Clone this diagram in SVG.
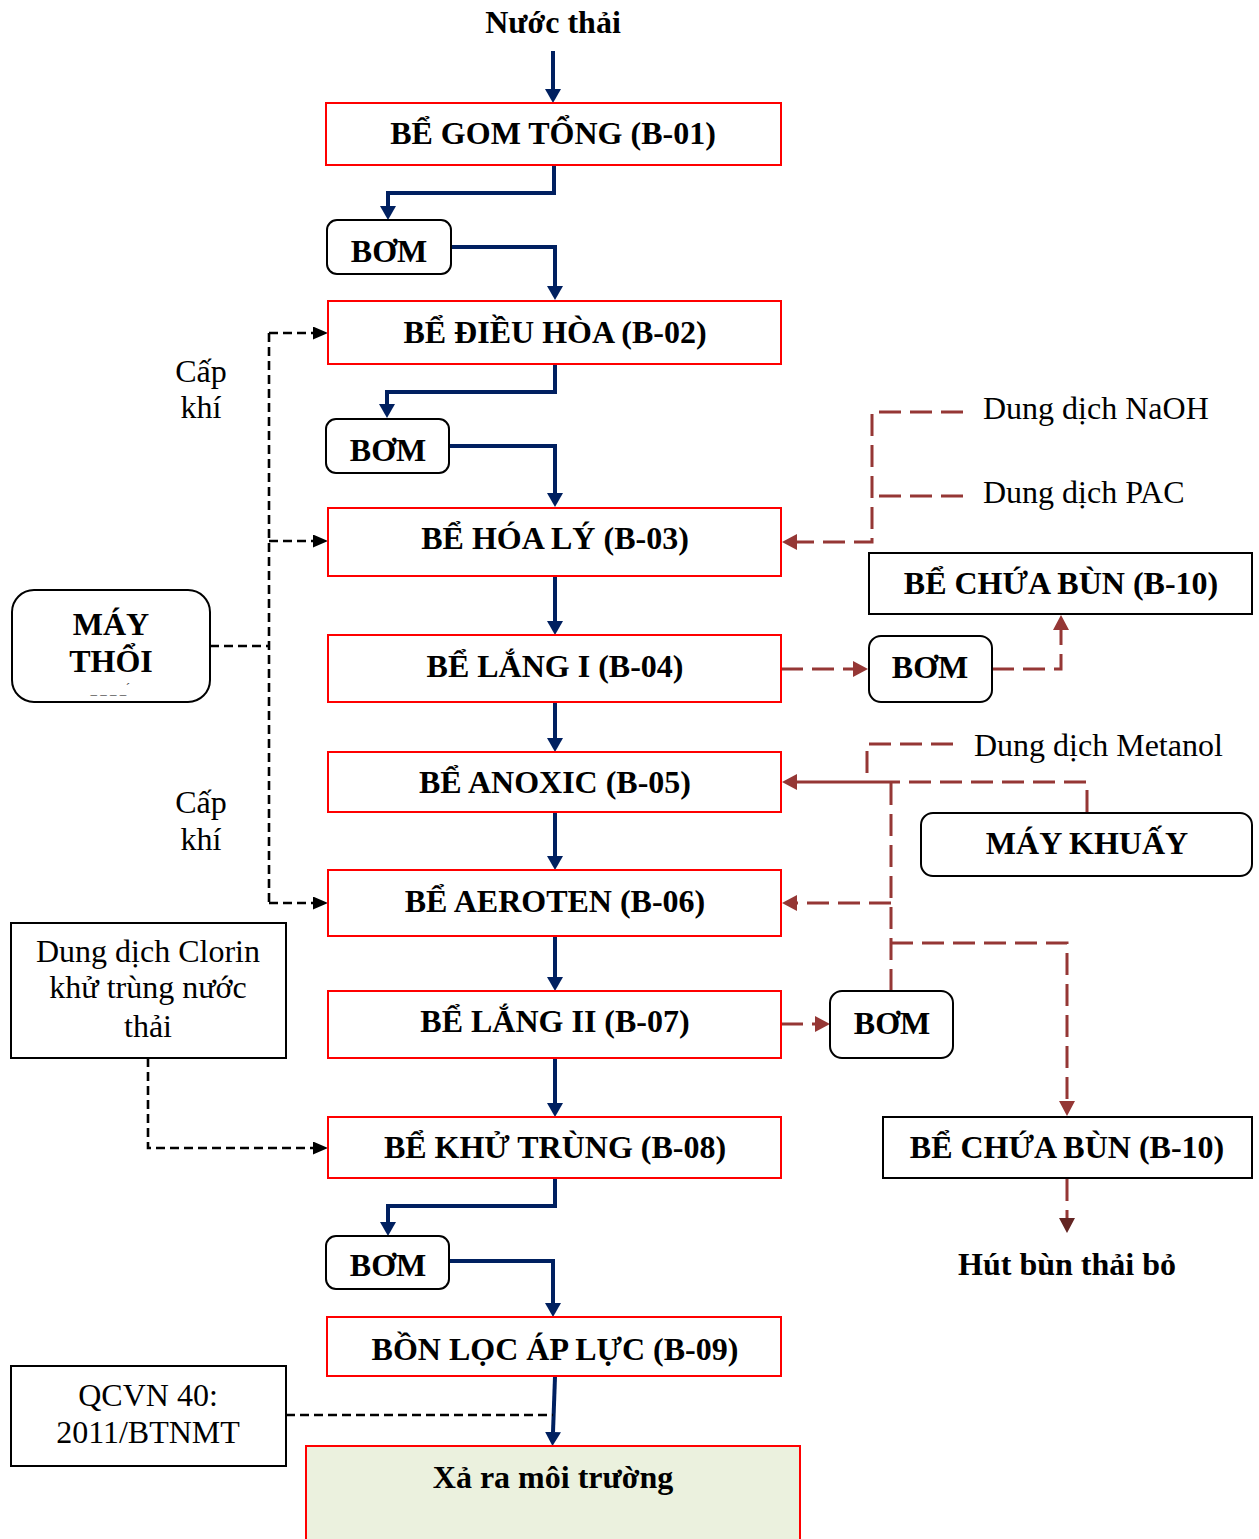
<svg xmlns="http://www.w3.org/2000/svg" width="1259" height="1539" viewBox="0 0 1259 1539">
<style>
.bx{fill:#fff;stroke:#ff0000;stroke-width:2}
.bk{fill:#fff;stroke:#000;stroke-width:2}
.t{font-family:"Liberation Serif","Times New Roman",serif;font-size:32px;fill:#000;text-anchor:middle}
.b{font-weight:bold}
.tl{text-anchor:start}
.blue{fill:none;stroke:#002060;stroke-width:4}
.blk{fill:none;stroke:#000;stroke-width:2.6;stroke-dasharray:9 5}
.brn{fill:none;stroke:#953735;stroke-width:3;stroke-dasharray:22 9}
.brs{fill:none;stroke:#953735;stroke-width:3}
</style>
<defs>
<marker id="ab" markerUnits="userSpaceOnUse" markerWidth="14" markerHeight="16" refX="0" refY="8" orient="auto"><path d="M0,0 L14,8 L0,16 z" fill="#002060"/></marker>
<marker id="ak" markerUnits="userSpaceOnUse" markerWidth="15" markerHeight="13" refX="0" refY="6.5" orient="auto"><path d="M0,0 L15,6.5 L0,13 z" fill="#000"/></marker>
<marker id="ar" markerUnits="userSpaceOnUse" markerWidth="15" markerHeight="16" refX="0" refY="8" orient="auto"><path d="M0,0 L15,8 L0,16 z" fill="#953735"/></marker>
<marker id="ad" markerUnits="userSpaceOnUse" markerWidth="15" markerHeight="16" refX="0" refY="8" orient="auto"><path d="M0,0 L15,8 L0,16 z" fill="#632523"/></marker>
</defs>

<g id="connectors">
<path class="blue" d="M553,51 V89" marker-end="url(#ab)"/>
<path class="blue" d="M554,166 V193 H388 V206" marker-end="url(#ab)"/>
<path class="blue" d="M451,247 H555 V286" marker-end="url(#ab)"/>
<path class="blue" d="M555,365 V392 H387 V404" marker-end="url(#ab)"/>
<path class="blue" d="M449,446 H555 V493" marker-end="url(#ab)"/>
<path class="blue" d="M555,577 V621" marker-end="url(#ab)"/>
<path class="blue" d="M555,703 V738" marker-end="url(#ab)"/>
<path class="blue" d="M555,813 V856" marker-end="url(#ab)"/>
<path class="blue" d="M555,937 V977" marker-end="url(#ab)"/>
<path class="blue" d="M555,1059 V1103" marker-end="url(#ab)"/>
<path class="blue" d="M555,1179 V1206 H388 V1222" marker-end="url(#ab)"/>
<path class="blue" d="M449,1261 H553 V1303" marker-end="url(#ab)"/>
<path class="blue" d="M555,1377 L553,1432" marker-end="url(#ab)"/>

<path class="blk" d="M269,333 V903"/>
<path class="blk" d="M269,333 H313" marker-end="url(#ak)"/>
<path class="blk" d="M269,541 H313" marker-end="url(#ak)"/>
<path class="blk" d="M269,903 H313" marker-end="url(#ak)"/>
<path class="blk" d="M210,646 H269"/>
<path class="blk" d="M148,1058 V1148 H313" marker-end="url(#ak)"/>
<path class="blk" d="M286,1415 H553"/>

<path class="brn" d="M963,412 H872 V542 H797" marker-end="url(#ar)"/>
<path class="brn" d="M963,496 H872"/>
<path class="brn" d="M781,669 H853" marker-end="url(#ar)"/>
<path class="brn" d="M992,669 H1061 V630" marker-end="url(#ar)"/>
<path class="brn" d="M953,744 H867 V782"/>
<path class="brn" d="M1087,812 V782 H891"/>
<path class="brs" d="M891,782 H797" marker-end="url(#ar)"/>
<path class="brn" d="M891,991 V782"/>
<path class="brn" d="M891,903 H797" marker-end="url(#ar)"/>
<path class="brn" d="M891,943 H1067 V1101" marker-end="url(#ar)"/>
<path class="brn" d="M781,1024 H815" marker-end="url(#ar)"/>
<path class="brn" d="M1067,1179 V1218" marker-end="url(#ad)"/>
</g>

<g id="nuoc-thai"><text class="t b" x="553" y="33">Nước thải</text></g>

<g id="b01"><rect class="bx" x="326" y="103" width="455" height="62"/><text class="t b" x="553" y="144">BỂ GOM TỔNG (B-01)</text></g>
<g id="bom1"><rect class="bk" x="327" y="220" width="124" height="54" rx="10"/><text class="t b" x="389" y="262">BƠM</text></g>
<g id="b02"><rect class="bx" x="328" y="301" width="453" height="63"/><text class="t b" x="555" y="343">BỂ ĐIỀU HÒA (B-02)</text></g>
<g id="bom2"><rect class="bk" x="326" y="419" width="123" height="54" rx="10"/><text class="t b" x="388" y="461">BƠM</text></g>
<g id="b03"><rect class="bx" x="328" y="508" width="453" height="68"/><text class="t b" x="555" y="549">BỂ HÓA LÝ (B-03)</text></g>
<g id="b04"><rect class="bx" x="328" y="635" width="453" height="67"/><text class="t b" x="555" y="677">BỂ LẮNG I (B-04)</text></g>
<g id="b05"><rect class="bx" x="328" y="752" width="453" height="60"/><text class="t b" x="555" y="793">BỂ ANOXIC (B-05)</text></g>
<g id="b06"><rect class="bx" x="328" y="870" width="453" height="66"/><text class="t b" x="555" y="912">BỂ AEROTEN (B-06)</text></g>
<g id="b07"><rect class="bx" x="328" y="991" width="453" height="67"/><text class="t b" x="555" y="1032">BỂ LẮNG II (B-07)</text></g>
<g id="b08"><rect class="bx" x="328" y="1117" width="453" height="61"/><text class="t b" x="555" y="1158">BỂ KHỬ TRÙNG (B-08)</text></g>
<g id="bom3"><rect class="bk" x="326" y="1236" width="123" height="53" rx="10"/><text class="t b" x="388" y="1276">BƠM</text></g>
<g id="b09"><rect class="bx" x="327" y="1317" width="454" height="59"/><text class="t b" x="555" y="1360">BỒN LỌC ÁP LỰC (B-09)</text></g>
<g id="xa"><rect x="306" y="1446" width="494" height="110" fill="#ebf1de" stroke="#ff0000" stroke-width="2"/><text class="t b" x="553" y="1488">Xả ra môi trường</text></g>

<g id="may-thoi"><rect class="bk" x="12" y="590" width="198" height="112" rx="22"/><text class="t b" x="111" y="635">MÁY</text><text class="t b" x="111" y="672">THỔI</text><text x="110" y="694" font-family="Liberation Serif,serif" font-size="13" fill="#444" text-anchor="middle">_ _ _ _ ́</text></g>
<g id="cap-khi-1"><text class="t" x="201" y="382">Cấp</text><text class="t" x="201" y="418">khí</text></g>
<g id="cap-khi-2"><text class="t" x="201" y="813">Cấp</text><text class="t" x="201" y="850">khí</text></g>
<g id="clorin"><rect class="bk" x="11" y="923" width="275" height="135"/><text class="t" x="148" y="962">Dung dịch Clorin</text><text class="t" x="148" y="998">khử trùng nước</text><text class="t" x="148" y="1037">thải</text></g>
<g id="qcvn"><rect class="bk" x="11" y="1366" width="275" height="100"/><text class="t" x="148" y="1406">QCVN 40:</text><text class="t" x="148" y="1443">2011/BTNMT</text></g>

<g id="naoh"><text class="t tl" x="983" y="419">Dung dịch NaOH</text></g>
<g id="pac"><text class="t tl" x="983" y="503">Dung dịch PAC</text></g>
<g id="b10a"><rect class="bk" x="869" y="553" width="383" height="61"/><text class="t b" x="1061" y="594">BỂ CHỨA BÙN (B-10)</text></g>
<g id="bom4"><rect class="bk" x="869" y="636" width="123" height="66" rx="12"/><text class="t b" x="930" y="678">BƠM</text></g>
<g id="metanol"><text class="t tl" x="974" y="756">Dung dịch Metanol</text></g>
<g id="may-khuay"><rect class="bk" x="921" y="813" width="331" height="63" rx="12"/><text class="t b" x="1087" y="854">MÁY KHUẤY</text></g>
<g id="bom5"><rect class="bk" x="830" y="991" width="123" height="67" rx="12"/><text class="t b" x="892" y="1034">BƠM</text></g>
<g id="b10b"><rect class="bk" x="883" y="1117" width="369" height="61"/><text class="t b" x="1067" y="1158">BỂ CHỨA BÙN (B-10)</text></g>
<g id="hut-bun"><text class="t b" x="1067" y="1275">Hút bùn thải bỏ</text></g>
</svg>
